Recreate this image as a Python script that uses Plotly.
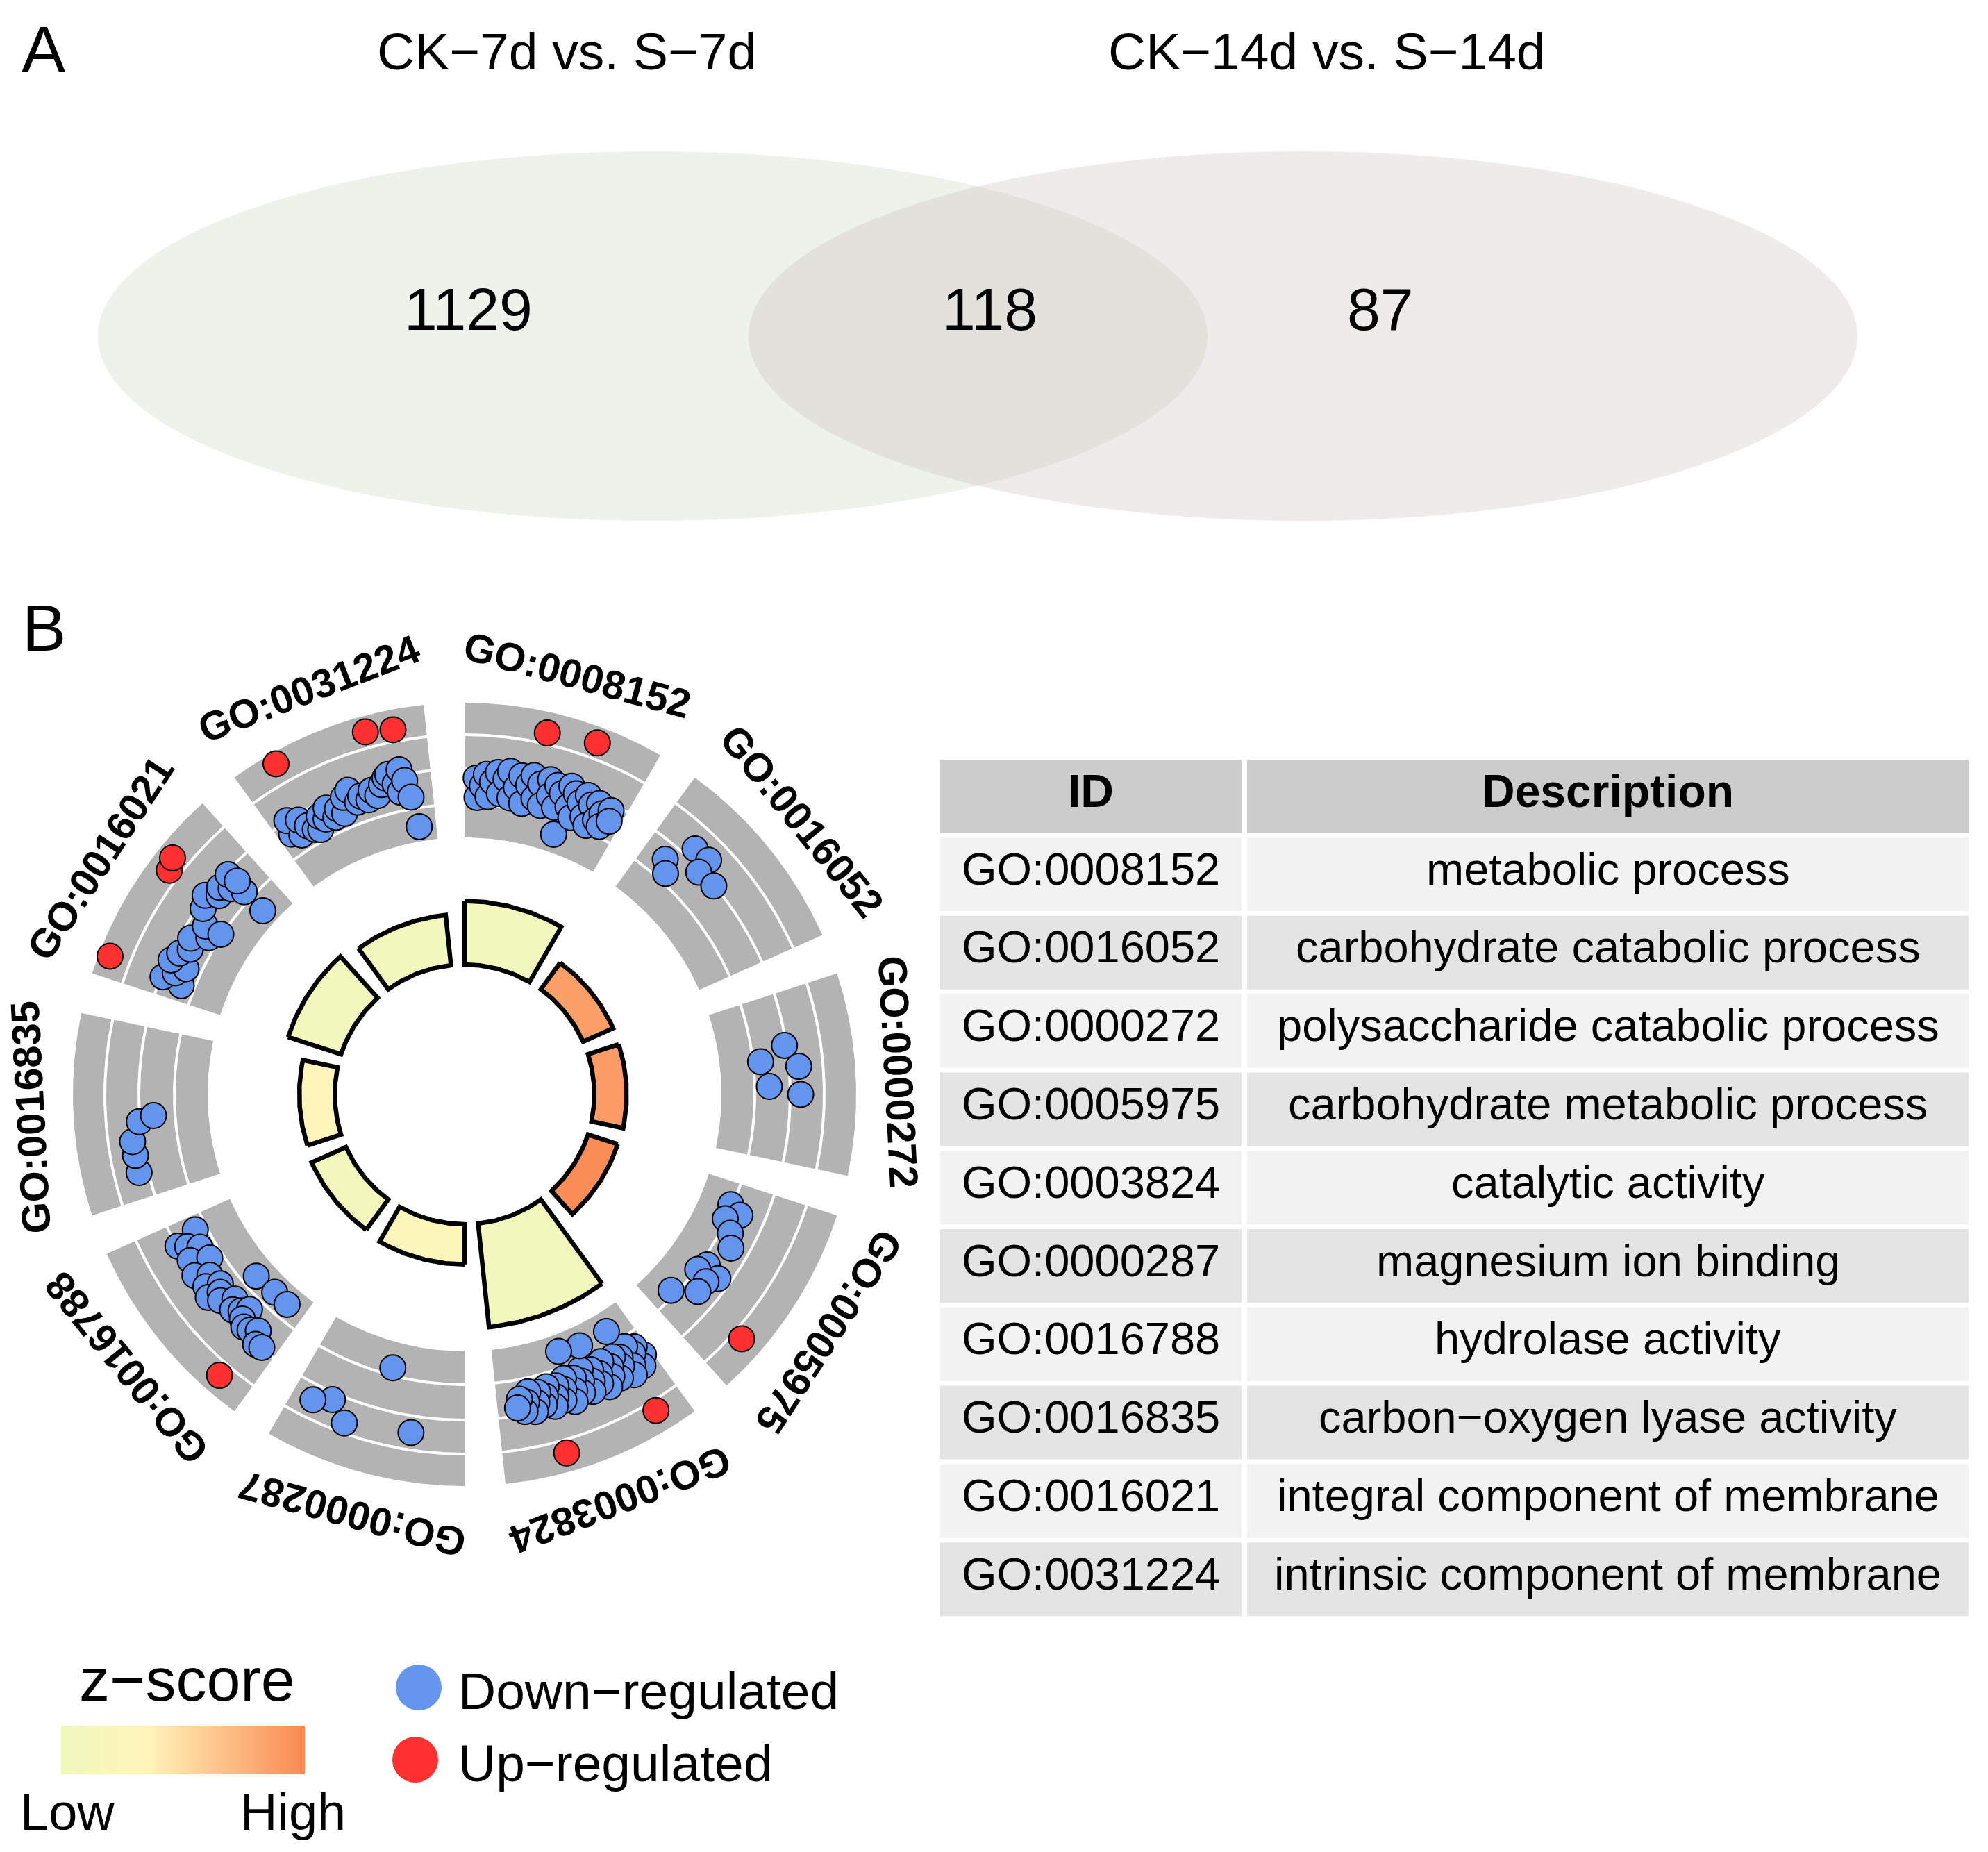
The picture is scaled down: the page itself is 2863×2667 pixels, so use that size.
import numpy as np
import plotly.graph_objects as go
from plotly.colors import sample_colorscale

W, H = 2863, 2667
FONT = "Liberation Sans, Arial, sans-serif"

# ---------------- Panel A data (Venn) ----------------
SET_NAMES = ["CK−7d vs. S−7d", "CK−14d vs. S−14d"]
VENN_COUNTS = [1129, 118, 87]          # only 7d, shared, only 14d

# ---------------- Panel B data (GO circle) ----------------
GO_IDS = ["GO:0008152", "GO:0016052", "GO:0000272", "GO:0005975", "GO:0003824",
          "GO:0000287", "GO:0016788", "GO:0016835", "GO:0016021", "GO:0031224"]
GO_DESC = ["metabolic process", "carbohydrate catabolic process",
           "polysaccharide catabolic process", "carbohydrate metabolic process",
           "catalytic activity", "magnesium ion binding", "hydrolase activity",
           "carbon−oxygen lyase activity", "integral component of membrane",
           "intrinsic component of membrane"]
NEG_LOG10_PADJ = [6.1, 3.15, 3.1, 3.0, 10.0, 3.85, 3.6, 3.4, 5.35, 4.85]
ZSCORE = [-2.8, 2.25, 2.35, 2.9, -2.85, -1.3, -2.6, -0.9, -2.75, -2.7]
TABLE_HEADER = ["ID", "Description"]

# gene position inside each term sector (0..1) and gene logFC
P_0008152 = [0.07, 0.08, 0.11, 0.13, 0.15, 0.17, 0.20, 0.22, 0.25, 0.27, 0.29, 0.32, 0.34, 0.37,
             0.39, 0.41, 0.44, 0.46, 0.49, 0.51, 0.53, 0.56, 0.58, 0.60, 0.63, 0.64, 0.66, 0.68,
             0.70, 0.72, 0.75, 0.77, 0.79, 0.81, 0.83, 0.85, 0.87, 0.89, 0.91, 0.93, 0.43, 0.69]
LFC_0008152 = [-1.97, -2.90, -2.33, -1.77, -2.83, -2.10, -1.63, -2.63, -1.90, -1.50, -2.77, -2.23,
               -1.63, -2.93, -2.00, -1.50, -2.57, -1.83, -2.83, -1.50, -2.27, -1.67, -2.73, -1.97,
               -3.97, -1.50, -2.50, -1.77, -2.93, -2.10, -1.63, -2.67, -2.00, -3.00, -1.77, -2.57,
               -2.17, -2.77, -1.83, -2.33, 0.63, 0.87]
P_0016052 = [0.15, 0.21, 0.24, 0.34, 0.35, 0.47]
LFC_0016052 = [-2.33, -2.83, -1.00, -0.93, -1.67, -1.57]
P_0000272 = [0.31, 0.39, 0.44, 0.55, 0.60]
LFC_0000272 = [-1.63, -2.87, -1.07, -2.53, -1.03]
P_0005975 = [0.15, 0.19, 0.25, 0.32, 0.40, 0.57, 0.60, 0.63, 0.66, 0.74, 0.85, 0.78]
LFC_0005975 = [-3.33, -2.73, -3.30, -2.77, -2.40, -2.93, -2.13, -3.17, -2.50, -2.50, -3.50, 0.57]
P_0003824 = [0.05, 0.07, 0.09, 0.10, 0.12, 0.14, 0.16, 0.18, 0.20, 0.22, 0.24, 0.26, 0.28, 0.30,
             0.32, 0.34, 0.36, 0.38, 0.40, 0.42, 0.44, 0.46, 0.48, 0.50, 0.52, 0.54, 0.56, 0.58,
             0.60, 0.62, 0.64, 0.66, 0.68, 0.70, 0.72, 0.74, 0.76, 0.78, 0.80, 0.82, 0.84, 0.86,
             0.88, 0.17, 0.38, 0.53, 0.16, 0.67]
LFC_0003824 = [-2.00, -2.57, -1.57, -2.33, -2.83, -1.83, -1.43, -2.50, -2.10, -2.70, -1.63, -2.33,
               -1.90, -2.77, -1.50, -2.27, -1.83, -2.63, -2.10, -1.63, -2.83, -2.30, -1.77, -2.57,
               -2.00, -1.50, -2.73, -2.23, -1.73, -2.50, -2.00, -1.57, -2.60, -2.17, -1.77, -2.43,
               -1.97, -1.57, -2.57, -2.10, -1.67, -2.30, -1.90, -3.90, -3.90, -4.03, 0.57, 0.73]
P_0000287 = [0.30, 0.49, 0.67, 0.78, 0.88]
LFC_0000287 = [-0.73, -3.60, -0.37, -1.20, -0.80]
P_0016788 = [0.91, 0.87, 0.84, 0.80, 0.76, 0.71, 0.67, 0.62, 0.58, 0.54, 0.52, 0.50, 0.46, 0.41,
             0.37, 0.33, 0.30, 0.29, 0.25, 0.21, 0.17, 0.13, 0.09, 0.43, 0.26, 0.14, 0.17]
LFC_0016788 = [-2.70, -1.60, -2.00, -2.50, -1.77, -2.63, -1.57, -2.17, -1.70, -2.33, -1.47, -2.07,
               -1.83, -2.40, -1.97, -2.23, -2.57, -2.00, -1.77, -1.87, -2.10, -1.53, -1.60, -3.90,
               -4.00, -3.97, 0.73]
P_0016835 = [0.15, 0.25, 0.33, 0.44, 0.47]
LFC_0016835 = [-1.10, -1.10, -1.07, -1.50, -2.20]
P_0016021 = [0.10, 0.11, 0.16, 0.21, 0.22, 0.28, 0.33, 0.39, 0.45, 0.50, 0.51, 0.58, 0.65, 0.70,
             0.74, 0.78, 0.82, 0.83, 0.84, 0.81, 0.11, 0.64, 0.70]
LFC_0016021 = [-2.60, -1.63, -2.10, -2.50, -1.67, -1.90, -2.27, -2.03, -2.77, -2.33, -3.17, -1.77,
               -1.47, -2.00, -1.77, -2.23, -2.80, -1.67, -2.20, -4.07, 1.10, 0.63, 0.87]
P_0031224 = [0.08, 0.10, 0.13, 0.16, 0.19, 0.22, 0.25, 0.28, 0.31, 0.34, 0.37, 0.40, 0.43, 0.46,
             0.50, 0.53, 0.56, 0.60, 0.63, 0.66, 0.70, 0.73, 0.75, 0.78, 0.80, 0.82, 0.84, 0.86,
             0.88, 0.21, 0.69, 0.83]
LFC_0031224 = [-2.17, -1.50, -2.47, -1.77, -2.23, -2.57, -2.70, -2.10, -2.37, -1.90, -2.50, -2.17,
               -2.50, -1.77, -1.53, -2.23, -2.00, -2.30, -1.90, -2.23, -1.77, -1.50, -1.37, -1.90,
               -2.33, -1.27, -1.83, -2.67, -4.13, 1.10, 0.87, 0.67]

GENE_POS = [P_0008152, P_0016052, P_0000272, P_0005975, P_0003824,
            P_0000287, P_0016788, P_0016835, P_0016021, P_0031224]
GENE_LFC = [LFC_0008152, LFC_0016052, LFC_0000272, LFC_0005975, LFC_0003824,
            LFC_0000287, LFC_0016788, LFC_0016835, LFC_0016021, LFC_0031224]

LEGEND_LABELS = ["Down−regulated", "Up−regulated"]
ZLEG_TICKS = ["Low", "High"]

# ---------------- geometry / styling ----------------
CX, CY = 661, 1568
R_HOLE = 187
BAR_SCALE = 15.0
STEP, SPAN = 36.0, 30.0
BANDS = [(370, 416), (420, 467), (471, 516), (520, 564)]
R_ZERO, LFC_SCALE = 515.0, 30.0
LABEL_R = 626
ZMIN, ZMAX = -3.0, 3.0
ZSCALE = [[0.0, "rgb(241,248,188)"], [0.35, "rgb(255,245,187)"], [1.0, "rgb(250,138,82)"]]
BLUE, RED = "#6495ED", "#FF3030"
GREY = "#B3B3B3"

# table layout
TAB_COLS = [(1346, 1780), (1788, 2827)]
TAB_HEAD_Y = (1086, 1192)
TAB_ROW0, TAB_PITCH, TAB_ROW_H = 1198, 112.8, 106
TXT_OFF = 8


def polar_xy(r, ang_deg):
    t = np.radians(np.asarray(ang_deg, dtype=float))
    r = np.asarray(r, dtype=float)
    return CX + r * np.sin(t), CY - r * np.cos(t)


def sector(r_in, r_out, a0, a1, n=90):
    a = np.linspace(a0, a1, n)
    xo, yo = polar_xy(np.full(n, r_out), a)
    xi, yi = polar_xy(np.full(n, r_in), a[::-1])
    return (np.concatenate([xo, xi, xo[:1]]), np.concatenate([yo, yi, yo[:1]]))


fig = go.Figure()

# grey tracks
for i in range(len(GO_IDS)):
    a0 = STEP * i
    for (ri, ro) in BANDS:
        x, y = sector(ri, ro, a0, a0 + SPAN)
        fig.add_trace(go.Scatter(x=x, y=y, mode="lines", fill="toself", fillcolor=GREY,
                                 line=dict(width=0, color=GREY), hoverinfo="skip",
                                 showlegend=False))

# inner bars (height = -log10 adj p, color = z-score)
bar_cols = sample_colorscale(ZSCALE, [(z - ZMIN) / (ZMAX - ZMIN) for z in ZSCORE])
for i, (v, c) in enumerate(zip(NEG_LOG10_PADJ, bar_cols)):
    a0 = STEP * i
    x, y = sector(R_HOLE, R_HOLE + BAR_SCALE * v, a0, a0 + SPAN)
    fig.add_trace(go.Scatter(x=x, y=y, mode="lines", fill="toself", fillcolor=c,
                             line=dict(width=6.5, color="black"), hoverinfo="skip",
                             showlegend=False))

# genes (points)
for i, (pos, lfc) in enumerate(zip(GENE_POS, GENE_LFC)):
    ang = [STEP * i + SPAN * p for p in pos]
    rr = [R_ZERO + LFC_SCALE * v for v in lfc]
    x, y = polar_xy(rr, ang)
    cols = [RED if v > 0 else BLUE for v in lfc]
    fig.add_trace(go.Scatter(x=x, y=y, mode="markers",
                             marker=dict(size=37, color=cols, line=dict(width=2, color="black")),
                             hoverinfo="skip", showlegend=False))

annotations = []
# GO labels around circle
for i, gid in enumerate(GO_IDS):
    ac = STEP * i + SPAN / 2
    x, y = polar_xy(LABEL_R, ac)
    ta = ac if ac <= 180 else ac - 360
    annotations.append(dict(x=float(x), y=float(y), xref="x", yref="y", text="<b>%s</b>" % gid,
                            showarrow=False, textangle=ta, xanchor="center", yanchor="middle",
                            borderpad=0, font=dict(size=58, family=FONT, color="black")))

# ---------------- Venn ----------------
shapes = [
    dict(type="circle", xref="x", yref="y", x0=133, x1=1731, y0=210, y1=742,
         fillcolor="rgb(237,242,235)", line=dict(width=0), layer="below"),
    dict(type="circle", xref="x", yref="y", x0=1070, x1=2667, y0=210, y1=742,
         fillcolor="rgba(190,168,168,0.23)", line=dict(width=0), layer="below"),
]
for name, xc in zip(SET_NAMES, [808, 1903]):
    annotations.append(dict(x=xc, y=66, xref="x", yref="y", text=name, showarrow=False,
                            xanchor="center", yanchor="middle",
                            font=dict(size=75, family=FONT, color="black")))
for cnt, xc in zip(VENN_COUNTS, [666, 1417, 1980]):
    annotations.append(dict(x=xc, y=437, xref="x", yref="y", text=str(cnt), showarrow=False,
                            xanchor="center", yanchor="middle",
                            font=dict(size=86, family=FONT, color="black")))
for lab, yc in [("A", 63), ("B", 896)]:
    annotations.append(dict(x=55, y=yc, xref="x", yref="y", text=lab, showarrow=False,
                            xanchor="center", yanchor="middle",
                            font=dict(size=95, family=FONT, color="black")))

# ---------------- legends ----------------
fig.add_trace(go.Scatter(x=[595, 590], y=[2422, 2526], mode="markers",
                         marker=dict(size=66, color=[BLUE, RED], line=dict(width=0)),
                         hoverinfo="skip", showlegend=False))
for lab, yc in zip(LEGEND_LABELS, [2427, 2531]):
    annotations.append(dict(x=650, y=yc, xref="x", yref="y", text=lab, showarrow=False,
                            xanchor="left", yanchor="middle",
                            font=dict(size=75, family=FONT, color="black")))
annotations.append(dict(x=261, y=2410, xref="x", yref="y", text="z−score", showarrow=False,
                        xanchor="center", yanchor="middle",
                        font=dict(size=88, family=FONT, color="black")))
for lab, xc in zip(ZLEG_TICKS, [89, 414]):
    annotations.append(dict(x=xc, y=2601, xref="x", yref="y", text=lab, showarrow=False,
                            xanchor="center", yanchor="middle",
                            font=dict(size=74, family=FONT, color="black")))

fig.add_trace(go.Heatmap(z=[list(np.linspace(ZMIN, ZMAX, 120))], colorscale=ZSCALE,
                         zmin=ZMIN, zmax=ZMAX, zsmooth="best", showscale=False,
                         hoverinfo="skip", xaxis="x2", yaxis="y2"))

# ---------------- table (cells drawn on the page axes) ----------------
hy0, hy1 = TAB_HEAD_Y
for (cx0, cx1), lab in zip(TAB_COLS, TABLE_HEADER):
    shapes.append(dict(type="rect", xref="x", yref="y", x0=cx0, x1=cx1, y0=hy0, y1=hy1,
                       fillcolor="#CCCCCC", line=dict(width=0), layer="below"))
    annotations.append(dict(x=(cx0 + cx1) / 2, y=(hy0 + hy1) / 2 - TXT_OFF, xref="x", yref="y",
                            text="<b>%s</b>" % lab, showarrow=False, xanchor="center",
                            yanchor="middle", font=dict(size=66, family=FONT, color="black")))
for k, (gid, desc) in enumerate(zip(GO_IDS, GO_DESC)):
    ry0 = TAB_ROW0 + TAB_PITCH * k
    ry1 = ry0 + TAB_ROW_H
    fillc = "#F2F2F2" if k % 2 == 0 else "#E4E4E4"
    for (cx0, cx1), txt in zip(TAB_COLS, [gid, desc]):
        shapes.append(dict(type="rect", xref="x", yref="y", x0=cx0, x1=cx1, y0=ry0, y1=ry1,
                           fillcolor=fillc, line=dict(width=0), layer="below"))
        annotations.append(dict(x=(cx0 + cx1) / 2, y=(ry0 + ry1) / 2 - TXT_OFF, xref="x",
                                yref="y", text=txt, showarrow=False, xanchor="center",
                                yanchor="middle",
                                font=dict(size=65, family=FONT, color="black")))

fig.update_layout(
    width=W, height=H, margin=dict(l=0, r=0, t=0, b=0),
    paper_bgcolor="white", plot_bgcolor="white",
    xaxis=dict(range=[0, W], domain=[0, 1], visible=False, fixedrange=True),
    yaxis=dict(range=[H, 0], domain=[0, 1], visible=False, fixedrange=True),
    xaxis2=dict(domain=[80 / W, 431 / W], anchor="y2", visible=False, fixedrange=True),
    yaxis2=dict(domain=[1 - 2547 / H, 1 - 2477 / H], anchor="x2", visible=False, fixedrange=True),
    shapes=shapes, annotations=annotations, showlegend=False,
)

fig.write_html("out.html", include_plotlyjs=True, config={"displayModeBar": False, "staticPlot": True})
